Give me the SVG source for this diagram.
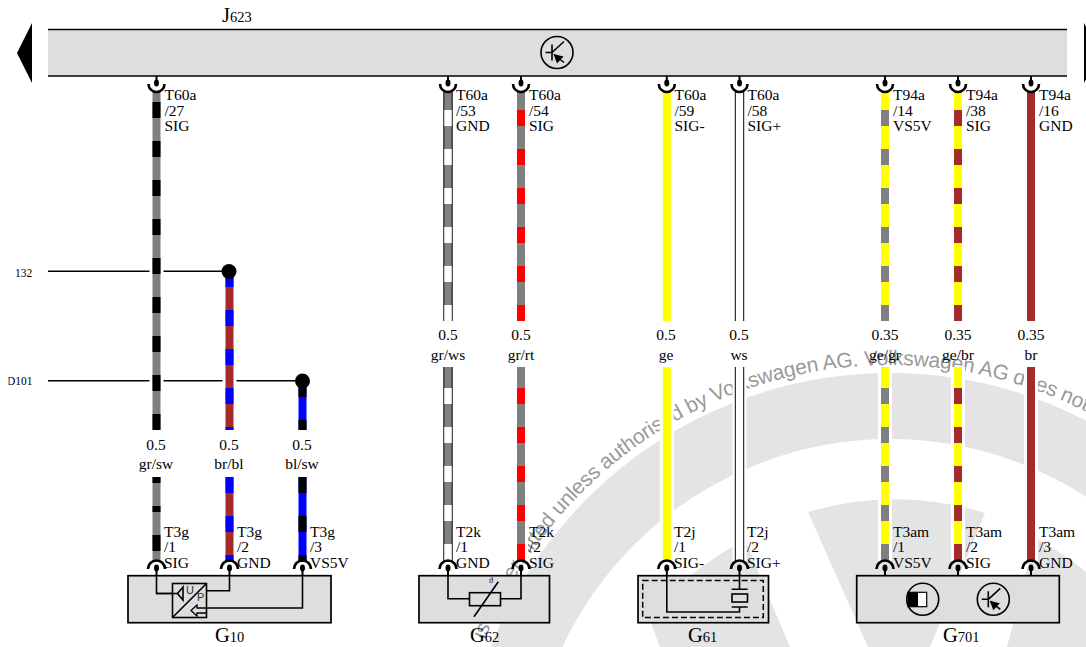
<svg xmlns="http://www.w3.org/2000/svg" width="1086" height="647" viewBox="0 0 1086 647">
<style>
text{font-family:"Liberation Serif","Times New Roman",serif;fill:#000;font-size:15.5px}
.c{text-anchor:middle}
.s{font-size:14.5px}
.big{font-size:20.5px}
.ref{font-size:11.5px}
.sans{font-family:"Liberation Sans",Arial,sans-serif;font-size:11px;fill:#333}
.wm{font-family:"Liberation Sans",Arial,sans-serif;font-size:21px;letter-spacing:-.25px;fill:#9a9a9a}
.wg{fill:#e4e4e4;stroke:none}
.box{fill:#dedede;stroke:#000;stroke-width:1.7}
.ln{fill:none;stroke:#000;stroke-width:1.6}
.thin{fill:none;stroke:#000;stroke-width:1.3}
.halo{stroke:#fff;stroke-width:14}
.w{stroke-width:8;fill:none}
.o{stroke:#000;stroke-width:9.4}
.i{stroke-width:7.4}
.d{stroke-dasharray:16 23}
.gr{stroke:#808080}.sw{stroke:#000}.bl{stroke:#00f}.br{stroke:#a52a2a}.rt{stroke:#f00}.ge{stroke:#ff0}.ws{stroke:#fff}
</style>
<defs>
<clipPath id="dclip"><rect x="8.5" y="370" width="40" height="20"/></clipPath>
<path id="wmarc" d="M475.3 666A436 436 0 0 1 1170 467"/>
<g id="pinT">
<path d="M0 0V6" fill="none" stroke="#000" stroke-width="2"/>
<ellipse cx="0" cy="7" rx="2.5" ry="3.4" fill="#000"/>
<path d="M-8 8A8 8 0 0 0 8 8" fill="none" stroke="#000" stroke-width="2.6"/>
</g>
<g id="pinB">
<path d="M0 -8V0" fill="none" stroke="#000" stroke-width="2"/>
<ellipse cx="0" cy="-8" rx="2.5" ry="3.4" fill="#000"/>
<path d="M-8.5 -7A8.5 8.5 0 0 1 8.5 -7" fill="none" stroke="#000" stroke-width="2.6"/>
</g>
<g id="rpm">
<circle r="16" fill="none" stroke="#000" stroke-width="1.6"/>
<path d="M-5 -8V8M-11.5 0H-5M-5 0L7 -11M-3 2L7 10" fill="none" stroke="#000" stroke-width="1.6"/>
<path d="M-3.5 1.5L0 11L6.5 4Z" fill="#000"/>
</g>
</defs>

<g id="watermark">
<circle cx="890" cy="801" r="395" fill="none" stroke="#e4e4e4" stroke-width="66"/>
<path class="wg" d="M808 512A301 301 0 0 1 985 513L930 647H868Z"/>
<path class="wg" d="M649 618A300 300 0 0 1 745 540L790 647H660Z"/>
<path class="wg" d="M1035 538A300 300 0 0 1 1086 572V647H1007Z"/>
<text class="wm"><textPath href="#wmarc" startOffset="28">is not permitted unless authorised by Volkswagen AG. Volkswagen AG does not</textPath></text>
</g>

<g id="connectors">
<path class="ln" d="M48 271.3H229M48 380.7H302"/>
<g fill="none">
<path class="halo" d="M156.5 91V430M156.5 477V562M229.5 271V430M229.5 477V562M302.5 381V430M302.5 477V562M448 91V321M448 367V562M521 91V321M521 367V562M666.8 91V321M666.8 367V562M739.5 91V321M739.5 367V562M885 91V321M885 367V562M958 91V321M958 367V562M1031 91V321M1031 367V562"/>

<path class="w gr" d="M156.5 91V430M156.5 477V562"/>
<path class="w sw d" d="M156.5 102V430"/>
<path class="w sw d" d="M156.5 477V562" stroke-dashoffset="-29" style="stroke-dasharray:6 23 16 23 16 23"/>

<path class="w br" d="M229.5 271V430M229.5 477V562"/>
<path class="w bl d" d="M229.5 271V430"/>
<path class="w bl d" d="M229.5 477V562"/>

<path class="w bl" d="M302.5 381V430M302.5 477V562"/>
<path class="w sw d" d="M302.5 381V430"/>
<path class="w sw d" d="M302.5 477V562"/>

<path class="o" d="M448 91V321M448 367V562"/>
<path class="i gr" d="M448 91V321M448 367V562"/>
<path class="i ws d" d="M448 110V321M448 388V562"/>

<path class="w gr" d="M521 91V321M521 367V562"/>
<path class="w rt d" d="M521 110V321M521 388V562"/>

<path class="w ge" d="M666.8 91V321M666.8 367V562"/>

<path class="o" d="M739.5 91V321M739.5 367V562"/>
<path class="i ws" d="M739.5 91V321M739.5 367V562"/>

<path class="w ge" d="M885 91V321M885 367V562"/>
<path class="w gr d" d="M885 110V321M885 388V562"/>

<path class="w ge" d="M958 91V321M958 367V562"/>
<path class="w br d" d="M958 110V321M958 388V562"/>

<path class="w br" d="M1031 91V321M1031 367V562"/>
</g>
<circle cx="229" cy="271.5" r="7.5" fill="#000"/>
<circle cx="302.5" cy="381" r="7.5" fill="#000"/>
<text class="ref" x="15" y="276.5">132</text>
<text class="ref" x="7" y="385" clip-path="url(#dclip)">D101</text>
<use href="#pinT" x="156.5" y="76"/><use href="#pinT" x="448" y="76"/><use href="#pinT" x="521" y="76"/><use href="#pinT" x="666.8" y="76"/><use href="#pinT" x="739.5" y="76"/><use href="#pinT" x="885" y="76"/><use href="#pinT" x="958" y="76"/><use href="#pinT" x="1031" y="76"/>
</g>

<g id="wire-labels">
<text x="164.5" y="100">T60a</text><text x="164.5" y="116">/27</text><text x="164.5" y="131">SIG</text>
<text x="456" y="100">T60a</text><text x="456" y="116">/53</text><text x="456" y="131">GND</text>
<text x="529" y="100">T60a</text><text x="529" y="116">/54</text><text x="529" y="131">SIG</text>
<text x="674.5" y="100">T60a</text><text x="674.5" y="116">/59</text><text x="674.5" y="131">SIG-</text>
<text x="747.5" y="100">T60a</text><text x="747.5" y="116">/58</text><text x="747.5" y="131">SIG+</text>
<text x="893" y="100">T94a</text><text x="893" y="116">/14</text><text x="893" y="131">VS5V</text>
<text x="966" y="100">T94a</text><text x="966" y="116">/38</text><text x="966" y="131">SIG</text>
<text x="1039" y="100">T94a</text><text x="1039" y="116">/16</text><text x="1039" y="131">GND</text>
<text class="c" x="156" y="450">0.5</text><text class="c" x="156" y="469">gr/sw</text>
<text class="c" x="229" y="450">0.5</text><text class="c" x="229" y="469">br/bl</text>
<text class="c" x="302" y="450">0.5</text><text class="c" x="302" y="469">bl/sw</text>
<text class="c" x="448" y="340">0.5</text><text class="c" x="448" y="360">gr/ws</text>
<text class="c" x="521" y="340">0.5</text><text class="c" x="521" y="360">gr/rt</text>
<text class="c" x="666" y="340">0.5</text><text class="c" x="666" y="360">ge</text>
<text class="c" x="739" y="340">0.5</text><text class="c" x="739" y="360">ws</text>
<text class="c" x="885" y="340">0.35</text><text class="c" x="885" y="360">ge/gr</text>
<text class="c" x="958" y="340">0.35</text><text class="c" x="958" y="360">ge/br</text>
<text class="c" x="1031" y="340">0.35</text><text class="c" x="1031" y="360">br</text>
<text x="164" y="537">T3g</text><text x="164" y="552">/1</text><text x="164" y="568">SIG</text>
<text x="237" y="537">T3g</text><text x="237" y="552">/2</text><text x="237" y="568">GND</text>
<text x="310" y="537">T3g</text><text x="310" y="552">/3</text><text x="310" y="568">VS5V</text>
<text x="456" y="537">T2k</text><text x="456" y="552">/1</text><text x="456" y="568">GND</text>
<text x="529" y="537">T2k</text><text x="529" y="552">/2</text><text x="529" y="568">SIG</text>
<text x="674" y="537">T2j</text><text x="674" y="552">/1</text><text x="674" y="568">SIG-</text>
<text x="747" y="537">T2j</text><text x="747" y="552">/2</text><text x="747" y="568">SIG+</text>
<text x="893" y="537">T3am</text><text x="893" y="552">/1</text><text x="893" y="568">VS5V</text>
<text x="966" y="537">T3am</text><text x="966" y="552">/2</text><text x="966" y="568">SIG</text>
<text x="1039" y="537">T3am</text><text x="1039" y="552">/3</text><text x="1039" y="568">GND</text>
</g>

<g id="J623">
<rect x="48" y="29.5" width="1019" height="46.5" fill="#dedede"/>
<path d="M48 29.5H1067M48 76H1067" fill="none" stroke="#000" stroke-width="1.7"/>
<path d="M32 23L17 53L32 83Z" fill="#000"/>
<path d="M1084 23L1100 53L1084 83Z" fill="#000"/>
<use href="#rpm" x="557" y="52.5"/>
<text x="222" y="22" class="big">J<tspan class="s">623</tspan></text>
</g>

<g id="G10">
<rect class="box" x="128" y="575.7" width="203" height="47"/>
<path class="ln" d="M156.5 576V593.5H177M229.5 576V590.7H206.5M302.5 576V608H206.5"/>
<rect x="172.5" y="583.5" width="34" height="34" fill="#dedede" stroke="#000" stroke-width="1.6"/>
<path class="ln" d="M172.5 617.5L206.5 583.5M156.5 593.5H178"/>
<path class="ln" d="M183 587V600L177.5 593.5Z"/>
<path class="thin" d="M206.5 608H197V605L191 610.5L197 616V613H206.5"/>
<text class="sans" x="186" y="594">U</text>
<text class="sans" x="197" y="601">P</text>
<text x="215" y="642" class="big">G<tspan class="s">10</tspan></text>
<use href="#pinB" x="156.5" y="576"/><use href="#pinB" x="229.5" y="576"/><use href="#pinB" x="302.5" y="576"/>
</g>

<g id="G62">
<rect class="box" x="419" y="575.7" width="130.5" height="47"/>
<path class="ln" d="M448 576V598.7H469.5M500.5 598.7H521V576"/>
<rect x="469.5" y="592.7" width="31" height="13" fill="#dedede" stroke="#000" stroke-width="1.6"/>
<path class="ln" d="M474 616.7L498.3 581.7"/>
<text x="489" y="583" style="font-size:8px">ϑ</text>
<text x="470" y="642" class="big">G<tspan class="s">62</tspan></text>
<use href="#pinB" x="448" y="576"/><use href="#pinB" x="521" y="576"/>
</g>

<g id="G61">
<rect class="box" x="638" y="575.7" width="130.5" height="47"/>
<rect x="642.7" y="580.5" width="120.6" height="37" fill="none" stroke="#000" stroke-width="1.5" stroke-dasharray="6 3"/>
<path class="ln" d="M666.8 576V612H739.5V607M739.5 576V589.3M731.7 589.3H747.7M731.7 607H747.7"/>
<rect x="732" y="594" width="15.5" height="8" fill="#dedede" stroke="#000" stroke-width="1.6"/>
<text x="688" y="642" class="big">G<tspan class="s">61</tspan></text>
<use href="#pinB" x="666.8" y="576"/><use href="#pinB" x="739.5" y="576"/>
</g>

<g id="G701">
<rect class="box" x="856.7" y="575.7" width="202.6" height="47"/>
<circle cx="922.7" cy="599.3" r="16" fill="none" stroke="#000" stroke-width="1.6"/>
<rect x="908" y="592.3" width="18.7" height="14.4" fill="#fff" stroke="#000" stroke-width="1.2"/>
<rect x="908" y="592.3" width="10" height="14.4" fill="#000"/>
<use href="#rpm" x="993.3" y="599.3"/>
<text x="943" y="642" class="big">G<tspan class="s">701</tspan></text>
<use href="#pinB" x="885" y="576"/><use href="#pinB" x="958" y="576"/><use href="#pinB" x="1031" y="576"/>
</g>
</svg>
